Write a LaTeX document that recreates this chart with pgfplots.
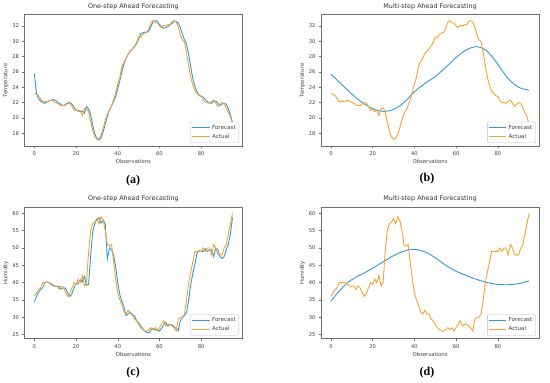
\documentclass[border=0pt]{standalone}
\usepackage{pgfplots}
\pgfplotsset{compat=1.18}
\usepackage{pgfplotstable}
\usepackage{fontspec}
\setmainfont{DejaVu Sans}
\newfontfamily\capfont{Liberation Serif}
\definecolor{fblue}{RGB}{45,155,215}
\definecolor{aorange}{RGB}{247,162,52}
\definecolor{framec}{RGB}{110,110,110}

\pgfplotstableread{
i A F
0 23.2 25.8
1 23.1 23.2
2 22.9 22.5
3 22.5 22.2
4 22.1 22.0
5 22.2 21.9
6 22.1 22.1
7 22.2 22.2
8 22.3 22.3
9 22.2 22.4
10 22.0 22.3
11 21.9 22.1
12 21.7 21.9
13 21.6 21.7
14 21.6 21.6
15 21.8 21.7
16 22.0 21.9
17 21.9 22.0
18 21.5 21.8
19 21.0 21.4
20 21.1 21.0
21 20.8 21.0
22 21.0 20.8
23 20.3 20.9
24 21.2 20.6
25 21.3 21.5
26 20.8 21.2
27 19.5 20.4
28 18.3 19.0
29 17.5 17.9
30 17.2 17.3
31 17.3 17.1
32 17.8 17.4
33 18.7 18.2
34 19.7 19.2
35 20.5 20.2
36 21.0 21.0
37 21.6 21.6
38 22.4 22.1
39 23.3 22.8
40 24.5 23.8
41 25.3 24.9
42 26.8 26.0
43 27.3 27.1
44 27.8 27.8
45 28.4 28.3
46 28.7 28.8
47 29.0 29.0
48 29.4 29.3
49 29.8 29.7
50 30.6 30.3
51 30.5 31.0
52 30.9 31.1
53 31.1 31.2
54 31.2 31.2
55 31.7 31.4
56 32.5 32.0
57 32.7 32.6
58 32.4 32.7
59 32.4 32.6
60 32.0 32.2
61 31.8 31.9
62 32.1 31.7
63 32.0 31.8
64 32.2 31.9
65 32.1 32.2
66 32.6 32.3
67 32.7 32.6
68 32.5 32.6
69 31.9 32.4
70 30.8 31.8
71 30.2 30.9
72 29.9 30.2
73 28.5 29.6
74 26.8 28.3
75 25.3 26.6
76 24.3 25.1
77 23.5 24.1
78 23.2 23.4
79 22.9 23.0
80 22.8 22.8
81 22.3 22.7
82 22.0 22.4
83 22.0 22.1
84 21.9 22.0
85 22.2 21.9
86 22.3 22.2
87 21.9 22.2
88 21.5 21.9
89 21.8 21.6
90 22.0 21.8
91 21.9 21.9
92 21.3 21.8
93 20.7 21.2
94 20.2 20.4
95 19.1 19.4
}\temptab

\pgfplotstableread{
i M
0 25.7
5 24.4
10 23.1
15 22.0
20 21.2
25 20.85
30 21.1
35 22.0
40 23.4
45 24.5
50 25.4
55 26.6
60 27.9
65 28.9
70 29.3
75 28.7
80 27.0
85 25.1
90 24.0
95 23.6
}\tempmulti

\pgfplotstableread{
i A F
0 36.1 34.5
1 37.0 36.0
2 38.0 37.2
3 38.5 38.0
4 40.0 38.6
5 40.0 40.0
6 40.0 40.2
7 40.0 40.0
8 39.5 39.8
9 39.0 39.3
10 39.0 38.9
11 39.0 38.9
12 38.0 38.8
13 39.0 38.2
14 38.5 38.6
15 37.0 38.3
16 36.0 36.9
17 37.0 36.0
18 38.5 36.8
19 40.0 38.5
20 39.5 39.8
21 41.0 39.6
22 40.0 40.8
23 42.0 40.2
24 39.0 41.8
25 40.0 39.3
26 49.0 39.5
27 55.0 48.0
28 57.0 54.8
29 57.5 57.0
30 58.5 58.3
31 57.0 58.7
32 59.0 57.2
33 58.0 58.0
34 55.0 57.0
35 51.0 46.8
36 50.5 50.0
37 51.0 49.5
38 46.0 48.0
39 41.0 44.5
40 37.0 40.0
41 35.0 36.5
42 33.5 34.5
43 31.5 33.0
44 31.0 30.5
45 32.0 31.0
46 31.0 31.5
47 31.0 30.5
48 29.5 30.5
49 29.0 29.0
50 28.0 28.5
51 27.0 27.5
52 26.5 26.7
53 26.0 26.0
54 26.0 25.6
55 26.5 25.5
56 27.0 26.5
57 26.5 26.7
58 27.0 26.3
59 26.0 26.5
60 27.0 26.0
61 28.0 26.8
62 29.0 27.8
63 27.5 28.5
64 28.0 27.5
65 28.0 27.8
66 27.5 27.8
67 27.0 27.2
68 26.0 26.8
69 29.5 26.2
70 30.0 29.0
71 30.0 30.0
72 31.0 30.5
73 35.0 31.5
74 40.0 35.0
75 43.0 39.5
76 46.0 42.8
77 49.0 45.5
78 49.0 48.5
79 49.0 49.2
80 49.0 49.0
81 50.0 49.0
82 49.0 49.8
83 50.0 49.0
84 50.0 49.5
85 48.0 49.5
86 51.0 47.5
87 50.0 50.0
88 48.0 49.5
89 48.0 47.5
90 48.0 47.0
91 50.0 47.5
92 51.0 49.5
93 54.0 51.0
94 57.0 54.0
95 60.0 58.8
}\humtab

\pgfplotstableread{
i M
0 34.7
4 37.6
8 40.0
12 41.6
16 42.8
20 44.2
25 46.0
30 47.8
35 49.1
40 49.6
45 48.9
50 47.2
55 45.0
60 43.3
65 42.0
70 40.9
75 40.0
80 39.5
85 39.4
90 39.7
95 40.5
}\hummulti

\pgfplotsset{
  panel/.style={
    scale only axis, width=218pt, height=131.7pt,
    xmin=-4.75, xmax=99.75,
    xtick={0,20,40,60,80},
    axis line style={framec, line width=0.7pt},
    tick style={framec, line width=0.4pt},
    major tick length=2pt,
    tick align=outside, xtick pos=bottom, ytick pos=left,
    tick label style={font=\fontsize{5.2}{6}\selectfont, text=black!75},
    label style={font=\fontsize{5.3}{6}\selectfont, text=black!75},
    xlabel={Observations},
    xlabel style={yshift=3pt},
    ylabel style={yshift=-3pt},
    title style={font=\fontsize{6.4}{7}\selectfont, text=black!80, yshift=-4.5pt},
    /pgf/number format/assume math mode=true,
    legend style={font=\fontsize{5.6}{6.5}\selectfont, draw=black!25, rounded corners=1pt,
      inner sep=1.2pt, row sep=-1pt, at={(0.985,0.025)}, anchor=south east,
      text=black!75},
    legend cell align=left,
    legend image post style={line width=1pt},
    every axis plot/.append style={line width=0.9pt, no markers},
  },
  temp/.style={ymin=16.3, ymax=33.5, ytick={18,20,...,32}, ylabel={Temperature}},
  hum/.style={ymin=23.8, ymax=61.8, ytick={25,30,...,60}, ylabel={Humidity}},
}

\begin{document}
\begin{tikzpicture}
\path (0pt,0pt) rectangle (550pt,382pt);
% (a)
\begin{axis}[panel, temp, at={(24.3pt,236.3pt)}, anchor=south west, title={One-step Ahead Forecasting}]
\addplot[fblue] table[x=i,y=F] {\temptab};
\addlegendentry{Forecast}
\addplot[aorange] table[x=i,y=A] {\temptab};
\addlegendentry{Actual}
\end{axis}
% (b)
\begin{axis}[panel, temp, at={(321pt,236.3pt)}, anchor=south west, title={Multi-step Ahead Forecasting}]
\addplot[fblue, smooth] table[x=i,y=M] {\tempmulti};
\addlegendentry{Forecast}
\addplot[aorange] table[x=i,y=A] {\temptab};
\addlegendentry{Actual}
\end{axis}
% (c)
\begin{axis}[panel, hum, at={(24.3pt,43.7pt)}, anchor=south west, title={One-step Ahead Forecasting}]
\addplot[fblue] table[x=i,y=F] {\humtab};
\addlegendentry{Forecast}
\addplot[aorange] table[x=i,y=A] {\humtab};
\addlegendentry{Actual}
\end{axis}
% (d)
\begin{axis}[panel, hum, at={(321pt,43.7pt)}, anchor=south west, title={Multi-step Ahead Forecasting}]
\addplot[fblue, smooth] table[x=i,y=M] {\hummulti};
\addlegendentry{Forecast}
\addplot[aorange] table[x=i,y=A] {\humtab};
\addlegendentry{Actual}
\end{axis}
\node[font=\capfont\fontsize{12}{14}\selectfont\bfseries] at (133pt,202pt) {(a)};
\node[font=\capfont\fontsize{12}{14}\selectfont\bfseries] at (427pt,204pt) {(b)};
\node[font=\capfont\fontsize{12}{14}\selectfont\bfseries] at (133pt,10pt) {(c)};
\node[font=\capfont\fontsize{12}{14}\selectfont\bfseries] at (427pt,10pt) {(d)};
\end{tikzpicture}
\end{document}
